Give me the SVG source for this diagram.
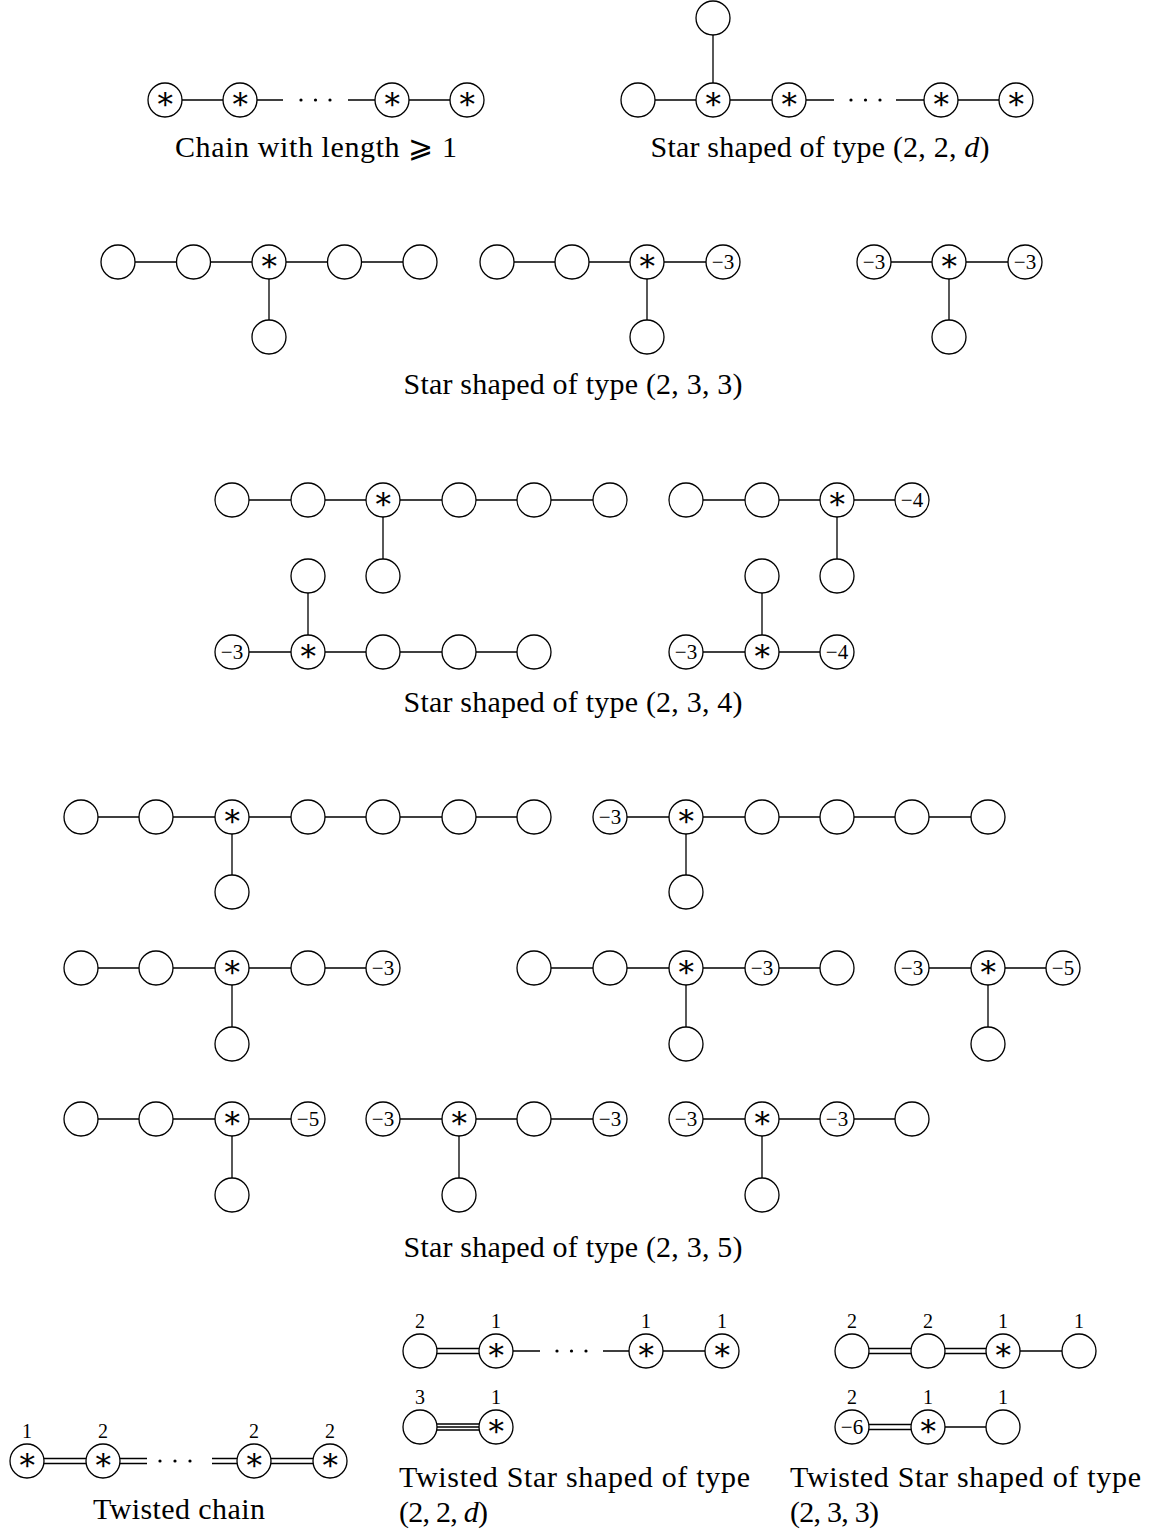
<svg xmlns="http://www.w3.org/2000/svg" width="1149" height="1533" viewBox="0 0 1149 1533">
<style>
text{font-family:"Liberation Serif","DejaVu Serif",serif;fill:#000}
.n{fill:#fff;stroke:#000;stroke-width:1.3}
.e{stroke:#000;stroke-width:1.3;fill:none}
.s{font-size:31px;text-anchor:middle}
.m{font-size:21px;text-anchor:middle}
.w{font-size:20px;text-anchor:middle}
.c{font-size:30px;text-anchor:middle}
.l{font-size:30px}
.d{fill:#000}
</style>
<defs>
<circle id="C" r="17" class="n"/>
</defs>
<rect width="1149" height="1533" fill="#fff"/>
<g id="connectors">
<path class="e" d="M165 100H240M240 100H283M348 100H392M392 100H467"/>
<path class="e" d="M713 18V100M638 100H789M789 100H834M896 100H1016"/>
<path class="e" d="M118 262H420M269 262V337M497 262H723M647 262V337M874 262H1025M949 262V337"/>
<path class="e" d="M232 500H610M383 500V576M686 500H912M837 500V576M232 652H534M308 652V576M686 652H837M762 652V576"/>
<path class="e" d="M81 817H534M232 817V892M610 817H988M686 817V892"/>
<path class="e" d="M81 968H383M232 968V1044M534 968H837M686 968V1044M912 968H1063M988 968V1044"/>
<path class="e" d="M81 1119H308M232 1119V1195M383 1119H610M459 1119V1195M686 1119H912M762 1119V1195"/>
<path class="e" d="M27 1458.5H103M27 1463.5H103M103 1458.5H147M103 1463.5H147M212 1458.5H254M212 1463.5H254M254 1458.5H330M254 1463.5H330"/>
<path class="e" d="M420 1348.5H496M420 1353.5H496M496 1351H540M603 1351H722"/>
<path class="e" d="M420 1424H496M420 1427H496M420 1430H496"/>
<path class="e" d="M852 1348.5H1003M852 1353.5H1003M1003 1351H1079"/>
<path class="e" d="M852 1424.5H928M852 1429.5H928M928 1427H1003"/>
</g>
<g id="dots">
<circle class="d" cx="301" cy="100" r="1.6"/><circle class="d" cx="315.5" cy="100" r="1.6"/><circle class="d" cx="330" cy="100" r="1.6"/>
<circle class="d" cx="851" cy="100" r="1.6"/><circle class="d" cx="865.5" cy="100" r="1.6"/><circle class="d" cx="880" cy="100" r="1.6"/>
<circle class="d" cx="160" cy="1461" r="1.6"/><circle class="d" cx="175" cy="1461" r="1.6"/><circle class="d" cx="190" cy="1461" r="1.6"/>
<circle class="d" cx="557" cy="1351" r="1.6"/><circle class="d" cx="571.5" cy="1351" r="1.6"/><circle class="d" cx="586" cy="1351" r="1.6"/>
</g>
<g id="chain">
<g id="ch1"><use href="#C" x="165" y="100"/><text class="s" x="165" y="109">∗</text></g>
<g id="ch2"><use href="#C" x="240" y="100"/><text class="s" x="240" y="109">∗</text></g>
<g id="ch3"><use href="#C" x="392" y="100"/><text class="s" x="392" y="109">∗</text></g>
<g id="ch4"><use href="#C" x="467" y="100"/><text class="s" x="467" y="109">∗</text></g>
<text class="c" x="316" y="157" textLength="282">Chain with length ⩾ 1</text>
</g>
<g id="star22d">
<g id="s0"><use href="#C" x="713" y="18"/></g>
<g id="s1"><use href="#C" x="638" y="100"/></g>
<g id="s2"><use href="#C" x="713" y="100"/><text class="s" x="713" y="109">∗</text></g>
<g id="s3"><use href="#C" x="789" y="100"/><text class="s" x="789" y="109">∗</text></g>
<g id="s4"><use href="#C" x="941" y="100"/><text class="s" x="941" y="109">∗</text></g>
<g id="s5"><use href="#C" x="1016" y="100"/><text class="s" x="1016" y="109">∗</text></g>
<text class="c" x="820" y="157" textLength="339">Star shaped of type (2, 2, <tspan font-style="italic">d</tspan>)</text>
</g>
<g id="star233">
<g id="a1"><use href="#C" x="118" y="262"/></g>
<g id="a2"><use href="#C" x="193.5" y="262"/></g>
<g id="a3"><use href="#C" x="269" y="262"/><text class="s" x="269" y="271">∗</text></g>
<g id="a4"><use href="#C" x="344.5" y="262"/></g>
<g id="a5"><use href="#C" x="420" y="262"/></g>
<g id="a6"><use href="#C" x="269" y="337"/></g>
<g id="b1"><use href="#C" x="497" y="262"/></g>
<g id="b2"><use href="#C" x="572" y="262"/></g>
<g id="b3"><use href="#C" x="647" y="262"/><text class="s" x="647" y="271">∗</text></g>
<g id="b4"><use href="#C" x="723" y="262"/><text class="m" x="723" y="269">−3</text></g>
<g id="b5"><use href="#C" x="647" y="337"/></g>
<g id="c1"><use href="#C" x="874" y="262"/><text class="m" x="874" y="269">−3</text></g>
<g id="c2"><use href="#C" x="949" y="262"/><text class="s" x="949" y="271">∗</text></g>
<g id="c3"><use href="#C" x="1025" y="262"/><text class="m" x="1025" y="269">−3</text></g>
<g id="c4"><use href="#C" x="949" y="337"/></g>
<text class="c" x="573" y="394" textLength="339">Star shaped of type (2, 3, 3)</text>
</g>
<g id="star234">
<g id="d1"><use href="#C" x="232" y="500"/></g>
<g id="d2"><use href="#C" x="308" y="500"/></g>
<g id="d3"><use href="#C" x="383" y="500"/><text class="s" x="383" y="509">∗</text></g>
<g id="d4"><use href="#C" x="459" y="500"/></g>
<g id="d5"><use href="#C" x="534" y="500"/></g>
<g id="d6"><use href="#C" x="610" y="500"/></g>
<g id="d7"><use href="#C" x="383" y="576"/></g>
<g id="e1"><use href="#C" x="686" y="500"/></g>
<g id="e2"><use href="#C" x="762" y="500"/></g>
<g id="e3"><use href="#C" x="837" y="500"/><text class="s" x="837" y="509">∗</text></g>
<g id="e4"><use href="#C" x="912" y="500"/><text class="m" x="912" y="507">−4</text></g>
<g id="e5"><use href="#C" x="837" y="576"/></g>
<g id="f1"><use href="#C" x="232" y="652"/><text class="m" x="232" y="659">−3</text></g>
<g id="f2"><use href="#C" x="308" y="652"/><text class="s" x="308" y="661">∗</text></g>
<g id="f3"><use href="#C" x="383" y="652"/></g>
<g id="f4"><use href="#C" x="459" y="652"/></g>
<g id="f5"><use href="#C" x="534" y="652"/></g>
<g id="f6"><use href="#C" x="308" y="576"/></g>
<g id="g1"><use href="#C" x="686" y="652"/><text class="m" x="686" y="659">−3</text></g>
<g id="g2"><use href="#C" x="762" y="652"/><text class="s" x="762" y="661">∗</text></g>
<g id="g3"><use href="#C" x="837" y="652"/><text class="m" x="837" y="659">−4</text></g>
<g id="g4"><use href="#C" x="762" y="576"/></g>
<text class="c" x="573" y="712" textLength="339">Star shaped of type (2, 3, 4)</text>
</g>
<g id="star235">
<g id="h1"><use href="#C" x="81" y="817"/></g>
<g id="h2"><use href="#C" x="156" y="817"/></g>
<g id="h3"><use href="#C" x="232" y="817"/><text class="s" x="232" y="826">∗</text></g>
<g id="h4"><use href="#C" x="308" y="817"/></g>
<g id="h5"><use href="#C" x="383" y="817"/></g>
<g id="h6"><use href="#C" x="459" y="817"/></g>
<g id="h7"><use href="#C" x="534" y="817"/></g>
<g id="h8"><use href="#C" x="232" y="892"/></g>
<g id="i1"><use href="#C" x="610" y="817"/><text class="m" x="610" y="824">−3</text></g>
<g id="i2"><use href="#C" x="686" y="817"/><text class="s" x="686" y="826">∗</text></g>
<g id="i3"><use href="#C" x="762" y="817"/></g>
<g id="i4"><use href="#C" x="837" y="817"/></g>
<g id="i5"><use href="#C" x="912" y="817"/></g>
<g id="i6"><use href="#C" x="988" y="817"/></g>
<g id="i7"><use href="#C" x="686" y="892"/></g>
<g id="j1"><use href="#C" x="81" y="968"/></g>
<g id="j2"><use href="#C" x="156" y="968"/></g>
<g id="j3"><use href="#C" x="232" y="968"/><text class="s" x="232" y="977">∗</text></g>
<g id="j4"><use href="#C" x="308" y="968"/></g>
<g id="j5"><use href="#C" x="383" y="968"/><text class="m" x="383" y="975">−3</text></g>
<g id="j6"><use href="#C" x="232" y="1044"/></g>
<g id="k1"><use href="#C" x="534" y="968"/></g>
<g id="k2"><use href="#C" x="610" y="968"/></g>
<g id="k3"><use href="#C" x="686" y="968"/><text class="s" x="686" y="977">∗</text></g>
<g id="k4"><use href="#C" x="762" y="968"/><text class="m" x="762" y="975">−3</text></g>
<g id="k5"><use href="#C" x="837" y="968"/></g>
<g id="k6"><use href="#C" x="686" y="1044"/></g>
<g id="m1"><use href="#C" x="912" y="968"/><text class="m" x="912" y="975">−3</text></g>
<g id="m2"><use href="#C" x="988" y="968"/><text class="s" x="988" y="977">∗</text></g>
<g id="m3"><use href="#C" x="1063" y="968"/><text class="m" x="1063" y="975">−5</text></g>
<g id="m4"><use href="#C" x="988" y="1044"/></g>
<g id="o1"><use href="#C" x="81" y="1119"/></g>
<g id="o2"><use href="#C" x="156" y="1119"/></g>
<g id="o3"><use href="#C" x="232" y="1119"/><text class="s" x="232" y="1128">∗</text></g>
<g id="o4"><use href="#C" x="308" y="1119"/><text class="m" x="308" y="1126">−5</text></g>
<g id="o5"><use href="#C" x="232" y="1195"/></g>
<g id="p1"><use href="#C" x="383" y="1119"/><text class="m" x="383" y="1126">−3</text></g>
<g id="p2"><use href="#C" x="459" y="1119"/><text class="s" x="459" y="1128">∗</text></g>
<g id="p3"><use href="#C" x="534" y="1119"/></g>
<g id="p4"><use href="#C" x="610" y="1119"/><text class="m" x="610" y="1126">−3</text></g>
<g id="p5"><use href="#C" x="459" y="1195"/></g>
<g id="q1"><use href="#C" x="686" y="1119"/><text class="m" x="686" y="1126">−3</text></g>
<g id="q2"><use href="#C" x="762" y="1119"/><text class="s" x="762" y="1128">∗</text></g>
<g id="q3"><use href="#C" x="837" y="1119"/><text class="m" x="837" y="1126">−3</text></g>
<g id="q4"><use href="#C" x="912" y="1119"/></g>
<g id="q5"><use href="#C" x="762" y="1195"/></g>
<text class="c" x="573" y="1257" textLength="339">Star shaped of type (2, 3, 5)</text>
</g>
<g id="twistedchain">
<g id="t1"><use href="#C" x="27" y="1461"/><text class="s" x="27" y="1470">∗</text><text class="w" x="27" y="1438">1</text></g>
<g id="t2"><use href="#C" x="103" y="1461"/><text class="s" x="103" y="1470">∗</text><text class="w" x="103" y="1438">2</text></g>
<g id="t3"><use href="#C" x="254" y="1461"/><text class="s" x="254" y="1470">∗</text><text class="w" x="254" y="1438">2</text></g>
<g id="t4"><use href="#C" x="330" y="1461"/><text class="s" x="330" y="1470">∗</text><text class="w" x="330" y="1438">2</text></g>
<text class="c" x="179" y="1519" textLength="172">Twisted chain</text>
</g>
<g id="twisted22d">
<g id="u1"><use href="#C" x="420" y="1351"/><text class="w" x="420" y="1328">2</text></g>
<g id="u2"><use href="#C" x="496" y="1351"/><text class="s" x="496" y="1360">∗</text><text class="w" x="496" y="1328">1</text></g>
<g id="u3"><use href="#C" x="646" y="1351"/><text class="s" x="646" y="1360">∗</text><text class="w" x="646" y="1328">1</text></g>
<g id="u4"><use href="#C" x="722" y="1351"/><text class="s" x="722" y="1360">∗</text><text class="w" x="722" y="1328">1</text></g>
<g id="v1"><use href="#C" x="420" y="1427"/><text class="w" x="420" y="1404">3</text></g>
<g id="v2"><use href="#C" x="496" y="1427"/><text class="s" x="496" y="1436">∗</text><text class="w" x="496" y="1404">1</text></g>
<text class="l" x="399" y="1487" textLength="351">Twisted Star shaped of type</text>
<text class="l" x="399" y="1522" textLength="89">(2, 2, <tspan font-style="italic">d</tspan>)</text>
</g>
<g id="twisted233">
<g id="x1"><use href="#C" x="852" y="1351"/><text class="w" x="852" y="1328">2</text></g>
<g id="x2"><use href="#C" x="928" y="1351"/><text class="w" x="928" y="1328">2</text></g>
<g id="x3"><use href="#C" x="1003" y="1351"/><text class="s" x="1003" y="1360">∗</text><text class="w" x="1003" y="1328">1</text></g>
<g id="x4"><use href="#C" x="1079" y="1351"/><text class="w" x="1079" y="1328">1</text></g>
<g id="y1"><use href="#C" x="852" y="1427"/><text class="m" x="852" y="1434">−6</text><text class="w" x="852" y="1404">2</text></g>
<g id="y2"><use href="#C" x="928" y="1427"/><text class="s" x="928" y="1436">∗</text><text class="w" x="928" y="1404">1</text></g>
<g id="y3"><use href="#C" x="1003" y="1427"/><text class="w" x="1003" y="1404">1</text></g>
<text class="l" x="790" y="1487" textLength="351">Twisted Star shaped of type</text>
<text class="l" x="790" y="1522" textLength="89">(2, 3, 3)</text>
</g>
</svg>
